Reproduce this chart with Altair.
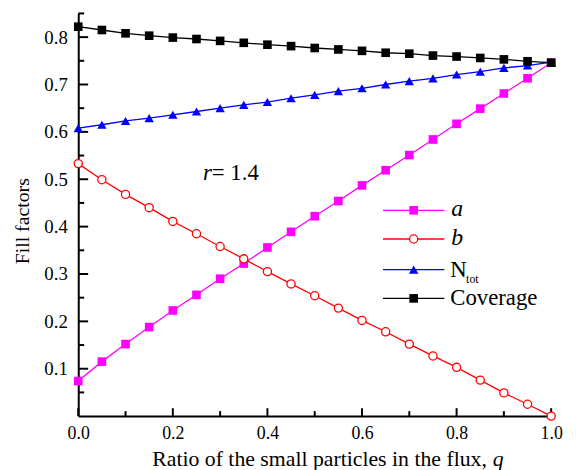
import altair as alt
import pandas as pd

# ---- data ----
q = [0.0, 0.05, 0.1, 0.15, 0.2, 0.25, 0.3, 0.35, 0.4, 0.45, 0.5,
     0.55, 0.6, 0.65, 0.7, 0.75, 0.8, 0.85, 0.9, 0.95, 1.0]
a_vals = [0.074, 0.115, 0.152, 0.188, 0.223, 0.256, 0.290, 0.322, 0.356, 0.389, 0.422,
          0.454, 0.487, 0.519, 0.551, 0.584, 0.617, 0.649, 0.681, 0.713, 0.746]
b_vals = [0.533, 0.499, 0.468, 0.440, 0.411, 0.385, 0.358, 0.332, 0.305, 0.279, 0.254,
          0.228, 0.202, 0.178, 0.152, 0.127, 0.103, 0.076, 0.049, 0.025, 0.0]
ntot_vals = [0.608, 0.615, 0.623, 0.629, 0.636, 0.643, 0.650, 0.657, 0.663, 0.671, 0.678,
             0.686, 0.692, 0.700, 0.707, 0.713, 0.721, 0.727, 0.735, 0.740, 0.747]
cov_vals = [0.822, 0.815, 0.808, 0.803, 0.799, 0.796, 0.792, 0.788, 0.784, 0.781, 0.777,
            0.774, 0.771, 0.767, 0.765, 0.761, 0.759, 0.756, 0.753, 0.749, 0.746]

x_ticks_major = [0.0, 0.2, 0.4, 0.6, 0.8, 1.0]
x_ticks_minor = [0.1, 0.3, 0.5, 0.7, 0.9]
y_ticks_major = [0.1, 0.2, 0.3, 0.4, 0.5, 0.6, 0.7, 0.8]
y_ticks_minor = [0.05, 0.15, 0.25, 0.35, 0.45, 0.55, 0.65, 0.75, 0.85]

W, H = 478, 407
FONT = "Liberation Serif"

xs = alt.Scale(domain=[0, 1], nice=False, zero=False)
ys = alt.Scale(domain=[0, 0.85], nice=False, zero=False)
xaxis = alt.Axis(values=x_ticks_major, format=".1f", title=None, ticks=False, grid=False,
                 domainColor="black", domainWidth=2, labelFont=FONT, labelFontSize=18,
                 labelColor="black", labelPadding=9, labelFlush=False)
yaxis = alt.Axis(values=y_ticks_major, format=".1f", title=None, ticks=False, grid=False,
                 domainColor="black", domainWidth=2, labelFont=FONT, labelFontSize=19,
                 labelColor="black", labelPadding=11)


def X(field="q"):
    return alt.X(f"{field}:Q", scale=xs, axis=xaxis)


def Y(field="v"):
    return alt.Y(f"{field}:Q", scale=ys, axis=yaxis)


def series(vals, color, shape, filled, size, fill=None):
    df = pd.DataFrame({"q": q, "v": vals})
    line = alt.Chart(df).mark_line(color=color, strokeWidth=1.3).encode(x=X(), y=Y())
    pt_kwargs = dict(shape=shape, size=size, opacity=1)
    if filled:
        pt = alt.Chart(df).mark_point(filled=True, color=color, **pt_kwargs)
    else:
        pt = alt.Chart(df).mark_point(filled=True, fill=fill, stroke=color,
                                      strokeWidth=1.3, **pt_kwargs)
    pt = pt.encode(x=X(), y=Y())
    return line + pt


layers = []

# ticks drawn inward
xmaj = pd.DataFrame({"q": x_ticks_major})
xmin = pd.DataFrame({"q": x_ticks_minor})
ymaj = pd.DataFrame({"v": y_ticks_major})
ymin = pd.DataFrame({"v": y_ticks_minor})
layers.append(alt.Chart(xmaj).mark_rule(color="black", strokeWidth=2).encode(
    x=X(), y=alt.value(H), y2=alt.value(H - 8)))
layers.append(alt.Chart(xmin).mark_rule(color="black", strokeWidth=2).encode(
    x=X(), y=alt.value(H), y2=alt.value(H - 5)))
layers.append(alt.Chart(ymaj).mark_rule(color="black", strokeWidth=2).encode(
    y=Y(), x=alt.value(0), x2=alt.value(10)))
layers.append(alt.Chart(ymin).mark_rule(color="black", strokeWidth=2).encode(
    y=Y(), x=alt.value(0), x2=alt.value(6)))

layers.append(series(a_vals, "#FF00FF", "square", True, 76))
layers.append(series(b_vals, "#FF0000", "circle", False, 68, fill="white"))
layers.append(series(ntot_vals, "#0000FF", "triangle-up", True, 90))
layers.append(series(cov_vals, "#000000", "square", True, 76))

# ---- manual legend ----
one = pd.DataFrame({"k": [0]})
legend_rows = [
    (199, "#FF00FF", "square", True, 76),
    (228, "#FF0000", "circle", False, 68),
    (259, "#0000FF", "triangle-up", True, 90),
    (288, "#000000", "square", True, 76),
]
for yy, col, shp, filled, sz in legend_rows:
    layers.append(alt.Chart(one).mark_rule(color=col, strokeWidth=1.3).encode(
        x=alt.value(308), x2=alt.value(370), y=alt.value(yy)))
    if filled:
        m = alt.Chart(one).mark_point(filled=True, color=col, shape=shp, size=sz, opacity=1)
    else:
        m = alt.Chart(one).mark_point(filled=True, fill="white", stroke=col, strokeWidth=1.3,
                                      shape=shp, size=sz, opacity=1)
    layers.append(m.encode(x=alt.value(339), y=alt.value(yy)))


def txt(s, x, y, size=20, italic=False, align="left", angle=0):
    kw = dict(text=s, font=FONT, fontSize=size, align=align, baseline="middle")
    if italic:
        kw["fontStyle"] = "italic"
    if angle:
        kw["angle"] = angle
    return alt.Chart(one).mark_text(**kw).encode(x=alt.value(x), y=alt.value(y))


layers.append(txt("a", 377, 198, size=24, italic=True))
layers.append(txt("b", 377, 227, size=24, italic=True))
layers.append(txt("N", 376, 259, size=23))
layers.append(txt("tot", 392, 268, size=12))
layers.append(txt("Coverage", 376, 288, size=23))

# annotation r = 1.4
layers.append(txt("r", 126, 161, size=23, italic=True))
layers.append(txt("= 1.4", 135, 161, size=23))

# axis titles
layers.append(txt("Ratio of the small particles in the flux,", 413, 450, size=22, align="right"))
layers.append(txt("q", 419, 450, size=22, italic=True))
layers.append(txt("Fill factors", -56, 210, size=20, align="center", angle=270))

chart = alt.layer(*layers).properties(
    width=W, height=H,
    padding={"left": 5, "top": 2, "right": 5, "bottom": 0},
).configure_view(stroke=None)

chart.save("out.html", embed_options={"renderer": "svg", "actions": False})
